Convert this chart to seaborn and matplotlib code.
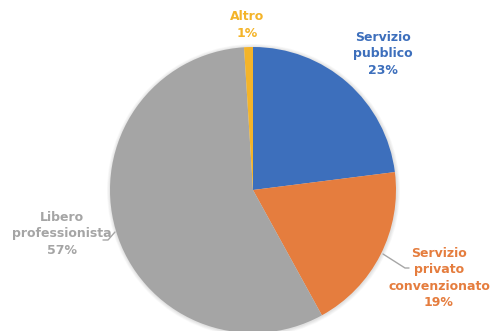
import matplotlib
matplotlib.use("Agg")
import matplotlib.pyplot as plt
import seaborn as sns

categories = ["Servizio\npubblico", "Servizio\nprivato\nconvenzionato", "Libero\nprofessionista", "Altro"]
values = [23, 19, 57, 1]
colors = ["#3D6FBC", "#E57D3E", "#A5A5A5", "#F4B429"]

sns.set_theme(style="white")
plt.rcParams['font.family'] = ['DejaVu Sans']

W, H = 491, 331
fig = plt.figure(figsize=(W / 100, H / 100), dpi=100)
ax = fig.add_axes([0, 0, 1, 1])

cx, cy, r = 253, H - 190, 143

# soft shadow
for i in range(5):
    circ = plt.Circle((cx + 0.5, cy - 0.5), r + 0.7 * (i + 1), color="black",
                      alpha=0.025, lw=0, zorder=0)
    ax.add_patch(circ)

ax.pie(values, colors=colors, startangle=90, counterclock=False,
       center=(cx, cy), radius=r, frame=True,
       wedgeprops=dict(linewidth=0, edgecolor="none"))
ax.set_xlim(0, W)
ax.set_ylim(0, H)
ax.set_aspect("equal")
ax.axis("off")

label_pos = [(383, 54), (439, 278), (62, 234), (247, 25)]
for lab, v, c, (x, y) in zip(categories, values, colors, label_pos):
    ax.text(x, H - y, f"{lab}\n{v}%", color=c, fontsize=9, fontweight="bold",
            ha="center", va="center", linespacing=1.35, zorder=5)

# leader lines
ax.plot([383, 405, 409], [H - 254, H - 268, H - 268], color="#A6A6A6", lw=1, zorder=4)
ax.plot([115, 108, 103], [H - 232, H - 240, H - 240], color="#A6A6A6", lw=1, zorder=4)

fig.savefig("out.png", dpi=100)
